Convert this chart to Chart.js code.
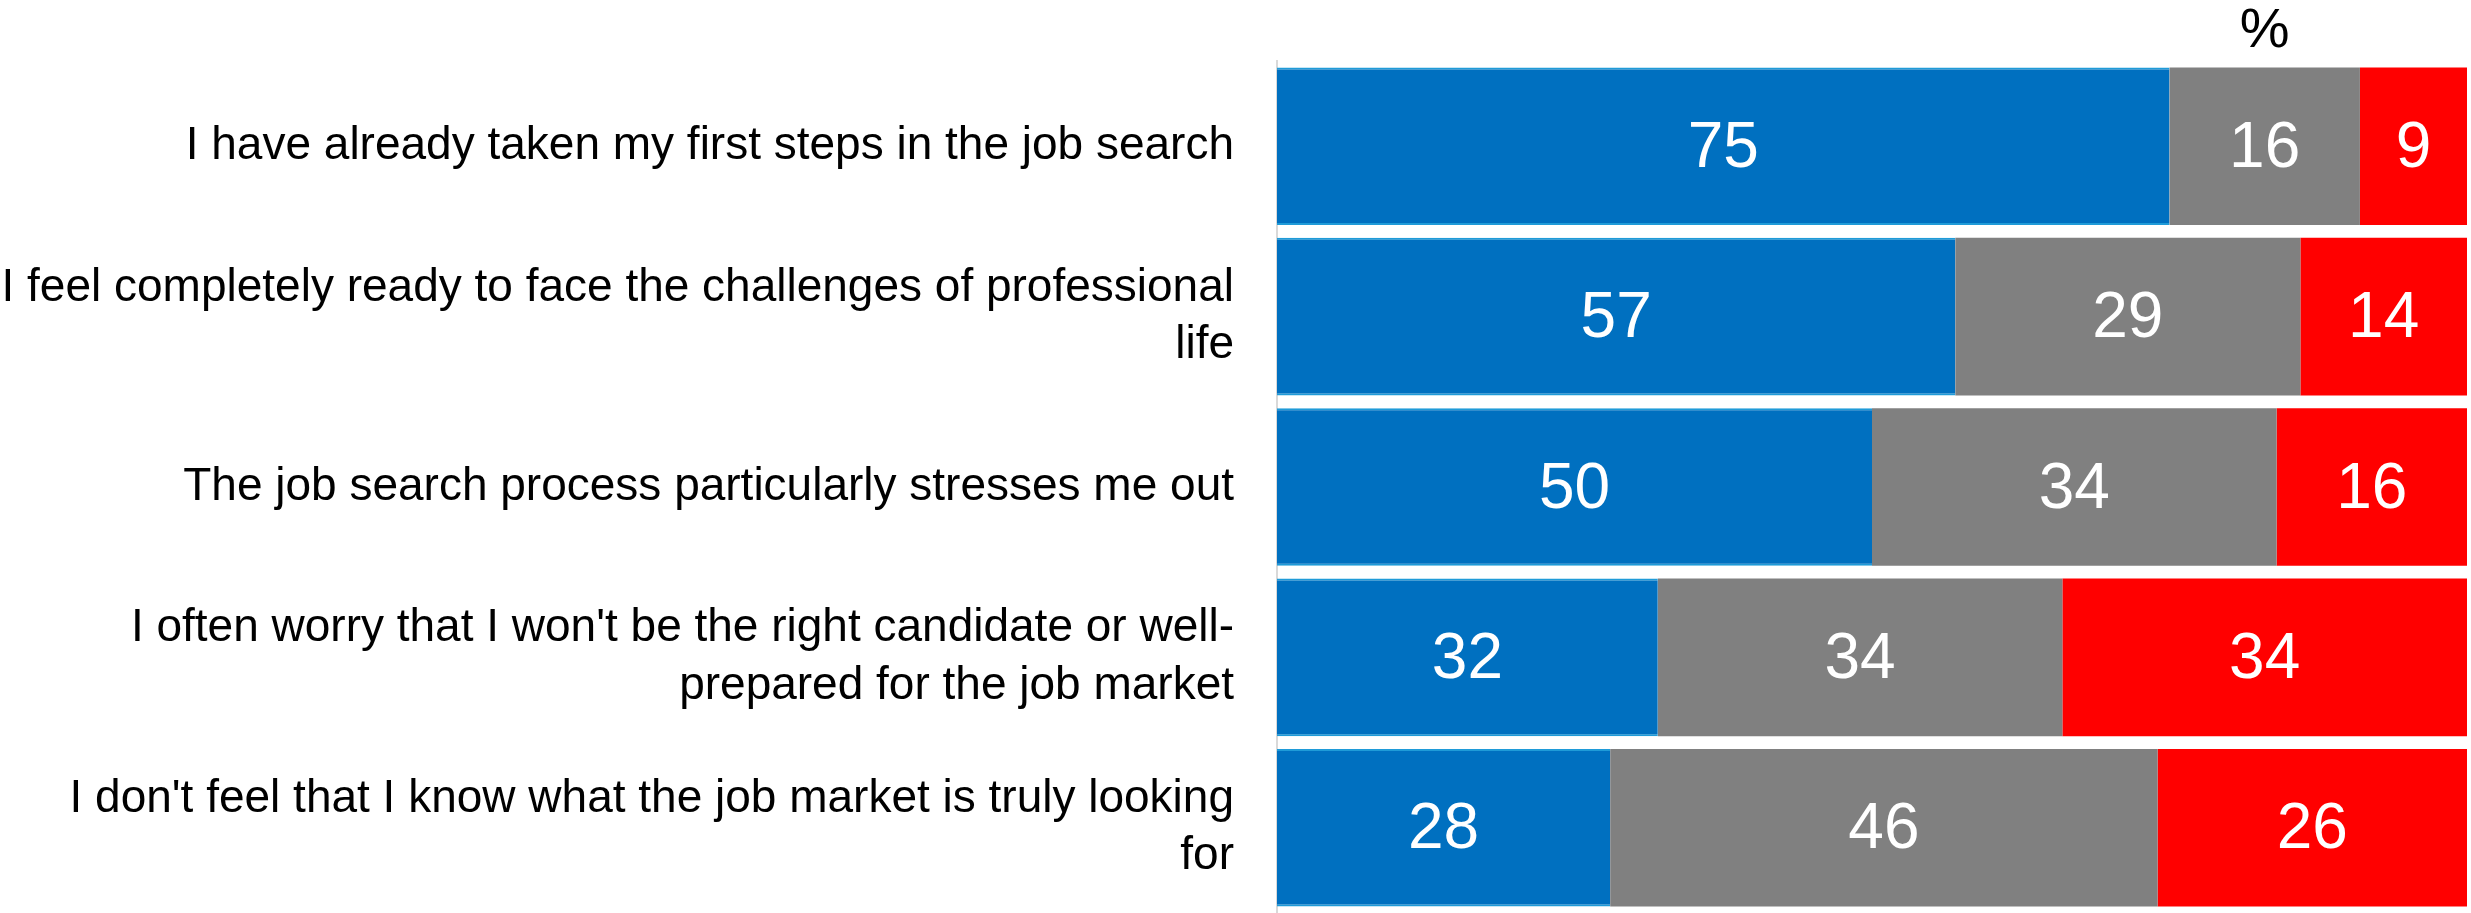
<!DOCTYPE html>
<html>
<head>
<meta charset="utf-8">
<script src="https://cdn.jsdelivr.net/npm/chart.js@4"></script>
<style>
    body { margin: 0; background: #ffffff; }
    canvas { display: block; }
</style>
</head>
<body>
<canvas id="stacked_chart" width="2471" height="913"></canvas>
<script>
const statements = [
    "I have already taken my first steps in the job search",
    ["I feel completely ready to face the challenges of professional", "life"],
    "The job search process particularly stresses me out",
    ["I often worry that I won't be the right candidate or well-", "prepared for the job market"],
    ["I don't feel that I know what the job market is truly looking", "for"]
];
const agree_values = [75, 57, 50, 32, 28];
const neutral_values = [16, 29, 34, 34, 46];
const disagree_values = [9, 14, 16, 34, 26];
const unit_label = "%";

const label_font = "'Liberation Sans', Arial, sans-serif";

// white value printed in the middle of each segment
const segment_values = {
    id: "segment_values",
    afterDatasetsDraw(chart) {
        let ctx = chart.ctx;
        ctx.save();
        ctx.fillStyle = "#ffffff";
        ctx.font = "64px " + label_font;
        ctx.textAlign = "center";
        ctx.textBaseline = "middle";
        chart.data.datasets.forEach(function(dataset, i) {
            let meta = chart.getDatasetMeta(i);
            meta.data.forEach(function(bar, j) {
                let pos = bar.getCenterPoint();
                ctx.fillText(dataset.data[j], pos.x, pos.y + 3);
            });
        });
        ctx.restore();
    }
};

// unit marker above the top bar
const unit_marker = {
    id: "unit_marker",
    afterDraw(chart) {
        let ctx = chart.ctx;
        let x_scale = chart.scales.x;
        ctx.save();
        ctx.fillStyle = "#000000";
        ctx.font = "56px " + label_font;
        ctx.textAlign = "center";
        ctx.textBaseline = "middle";
        ctx.fillText(unit_label, x_scale.getPixelForValue(83), 32);
        ctx.restore();
    }
};

const stacked_canvas = document.getElementById("stacked_chart");
const stacked_context = stacked_canvas.getContext("2d");

var stacked_chart = new Chart(stacked_context, {
    type: "bar",
    data: {
        labels: statements,
        datasets: [{
            label: "Agree",
            data: agree_values,
            backgroundColor: "#0070c0",
            borderColor: "#1f9bd8",
            borderWidth: { top: 2, bottom: 2, left: 0, right: 0 },
            borderSkipped: false
        }, {
            label: "Neutral",
            data: neutral_values,
            backgroundColor: "#808080",
            borderWidth: 0
        }, {
            label: "Disagree",
            data: disagree_values,
            backgroundColor: "#ff0000",
            borderWidth: 0
        }]
    },
    options: {
        indexAxis: "y",
        responsive: false,
        animation: false,
        barPercentage: 1,
        categoryPercentage: 0.925,
        layout: {
            padding: { top: 61, right: 4, bottom: -9, left: 0 }
        },
        plugins: {
            legend: { display: false },
            tooltip: { enabled: false }
        },
        scales: {
            x: {
                stacked: true,
                min: 0,
                max: 100,
                display: false
            },
            y: {
                stacked: true,
                grid: { display: false, drawTicks: false },
                border: { display: true, color: "#d9d9d9", width: 2 },
                ticks: {
                    color: "#000000",
                    padding: 43,
                    font: { size: 46, family: label_font, lineHeight: 1.25 }
                },
                afterFit(scale) {
                    // fixed label column, no extra space above/below the bars
                    scale.width = 1277;
                    scale.paddingTop = 0;
                    scale.paddingBottom = 0;
                }
            }
        }
    },
    plugins: [segment_values, unit_marker]
});
</script>
</body>
</html>
